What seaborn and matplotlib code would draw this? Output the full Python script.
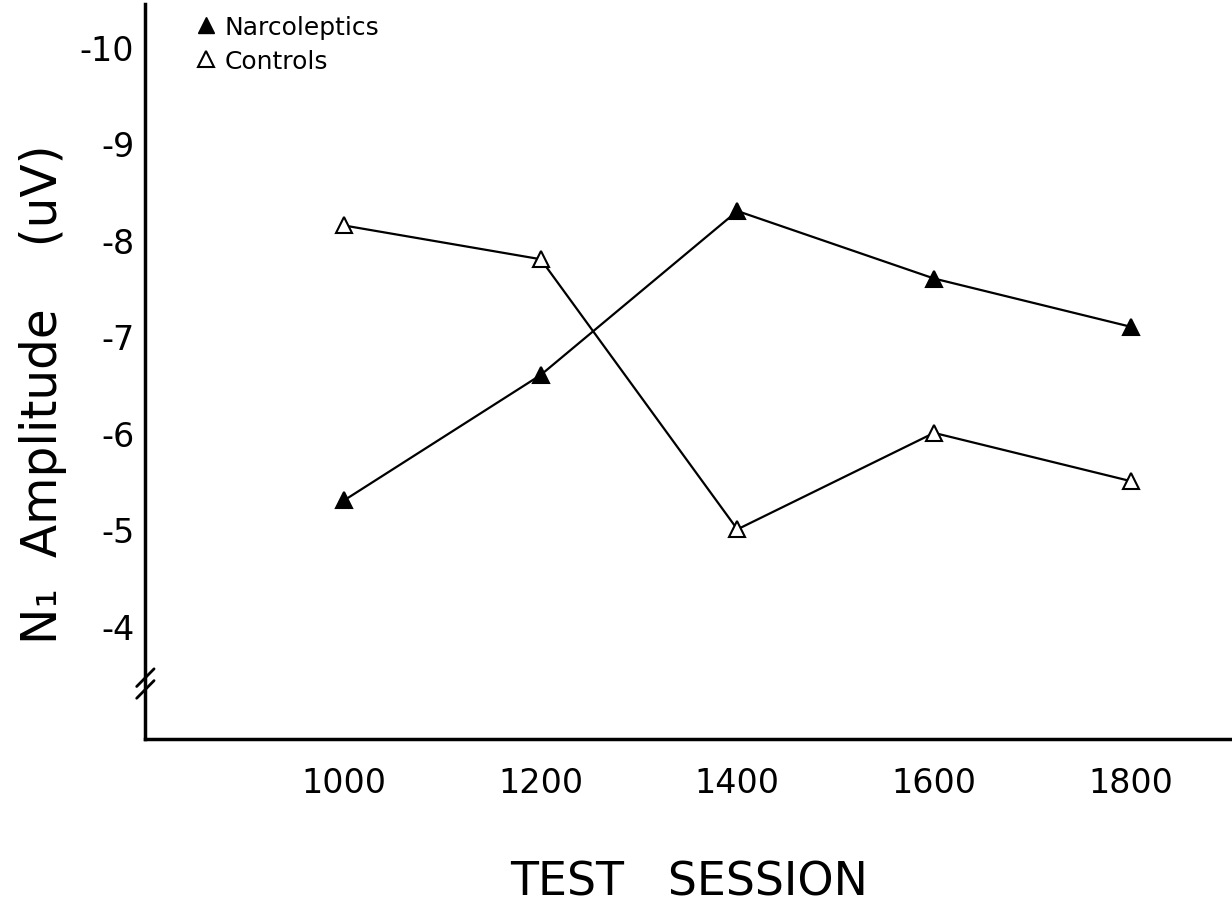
import matplotlib
matplotlib.use("Agg")
import matplotlib.pyplot as plt
from matplotlib.lines import Line2D
import seaborn as sns
import pandas as pd

sessions = [1000, 1200, 1400, 1600, 1800]
narcoleptics = [-5.3, -6.6, -8.3, -7.6, -7.1]
controls = [-8.15, -7.8, -5.0, -6.0, -5.5]
y_ticks = [-10, -9, -8, -7, -6, -5, -4]
series_names = ["Narcoleptics", "Controls"]

sns.set_theme(style="white")
plt.rcParams['font.family'] = ['DejaVu Sans']
plt.rcParams['text.color'] = 'black'

fig = plt.figure(figsize=(12.32, 9.2), dpi=100)
ax = fig.add_axes([0.118, 0.196, 0.882, 0.799])

df_n = pd.DataFrame({"session": sessions, "amp": narcoleptics})
df_c = pd.DataFrame({"session": sessions, "amp": controls})

sns.lineplot(data=df_n, x="session", y="amp", ax=ax, color="black", lw=1.6,
             marker="^", markersize=12, markerfacecolor="black",
             markeredgecolor="black", markeredgewidth=1.5)
sns.lineplot(data=df_c, x="session", y="amp", ax=ax, color="black", lw=1.6,
             marker="^", markersize=12, markerfacecolor="white",
             markeredgecolor="black", markeredgewidth=1.5)

ax.set_xlim(798, 1903)
ax.set_ylim(-2.83, -10.45)
ax.set_xticks(sessions)
ax.set_xticklabels([str(s) for s in sessions], fontsize=24, color="black")
ax.set_yticks(y_ticks)
ax.set_yticklabels([str(t) for t in y_ticks], fontsize=24, color="black")
ax.tick_params(axis="x", length=10, width=2, direction="out", pad=10, colors="black")
ax.tick_params(axis="y", length=0, pad=8, colors="black")
ax.set_xlabel("TEST   SESSION", fontsize=33, labelpad=43, color="black")
ax.set_ylabel("N₁  Amplitude    (uV)", fontsize=35, color="black")
ax.yaxis.set_label_coords(-0.072, 0.47)

for s in ["top", "right"]:
    ax.spines[s].set_visible(False)
for s in ["left", "bottom"]:
    ax.spines[s].set_linewidth(2.5)
    ax.spines[s].set_color("black")

# axis break marks on left spine
for dy in (-0.008, 0.008):
    ax.plot([-0.008, 0.008], [0.075 + dy - 0.012, 0.075 + dy + 0.012],
            transform=ax.transAxes, color="black", lw=2, clip_on=False)

handles = [
    Line2D([], [], ls="none", marker="^", markersize=11, mfc="black", mec="black"),
    Line2D([], [], ls="none", marker="^", markersize=11, mfc="white", mec="black", mew=1.5),
]
leg = ax.legend(handles, series_names, loc="upper left", bbox_to_anchor=(0.035, 0.998),
                frameon=False, fontsize=18, handletextpad=0.25, labelspacing=0.4,
                handlelength=1.0, borderaxespad=0)
for t in leg.get_texts():
    t.set_color("black")

fig.savefig("out.png", dpi=100)
